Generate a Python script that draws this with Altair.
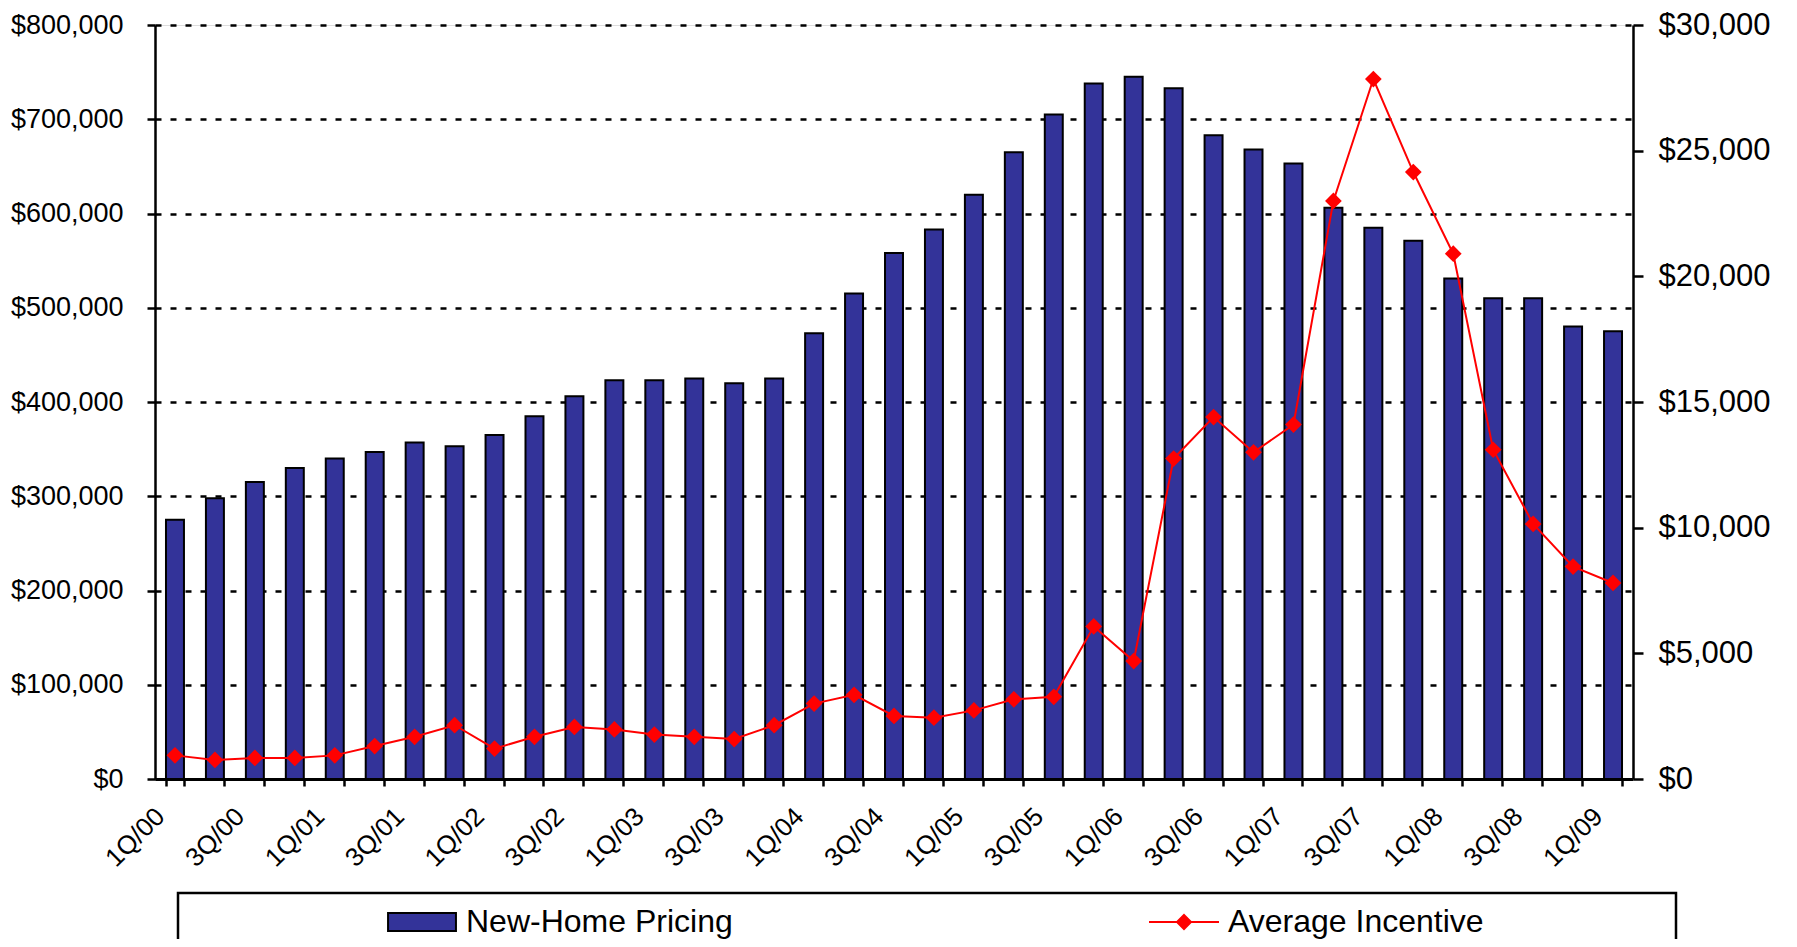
import altair as alt
import pandas as pd

quarters = [
    "1Q/00", "2Q/00", "3Q/00", "4Q/00",
    "1Q/01", "2Q/01", "3Q/01", "4Q/01",
    "1Q/02", "2Q/02", "3Q/02", "4Q/02",
    "1Q/03", "2Q/03", "3Q/03", "4Q/03",
    "1Q/04", "2Q/04", "3Q/04", "4Q/04",
    "1Q/05", "2Q/05", "3Q/05", "4Q/05",
    "1Q/06", "2Q/06", "3Q/06", "4Q/06",
    "1Q/07", "2Q/07", "3Q/07", "4Q/07",
    "1Q/08", "2Q/08", "3Q/08", "4Q/08",
    "1Q/09",
]

price = [
    275000, 298000, 315000, 330000,
    340000, 347000, 357000, 353000,
    365000, 385000, 406000, 423000,
    423000, 425000, 420000, 425000,
    473000, 515000, 558000, 583000,
    620000, 665000, 705000, 738000,
    745000, 733000, 683000, 668000,
    653000, 606000, 585000, 571000,
    531000, 510000, 510000, 480000,
    475000,
]

incentive = [
    940, 760, 840, 840,
    940, 1310, 1680, 2140,
    1210, 1680, 2070, 1970,
    1770, 1680, 1590, 2140,
    3000, 3350, 2510, 2440,
    2730, 3170, 3270, 6070,
    4690, 12750, 14400, 13000,
    14100, 23000, 27850, 24150,
    20900, 13100, 10150, 8450,
    7800,
]

price_ticks = [0, 100000, 200000, 300000, 400000, 500000, 600000, 700000, 800000]
incentive_ticks = [0, 5000, 10000, 15000, 20000, 25000, 30000]

df = pd.DataFrame({
    "quarter": quarters,
    "price": price,
    "incentive": incentive,
    "bar_series": "New-Home Pricing",
    "line_series": "Average Incentive",
})

FONT = "Liberation Sans"
W, H = 1478, 754

x_enc = alt.X(
    "quarter:N",
    sort=quarters,
    title=None,
    scale=alt.Scale(paddingInner=0.55, paddingOuter=0.275),
    axis=alt.Axis(
        labelAngle=315,
        labelAlign="right",
        labelBaseline="middle",
        labelFontSize=26,
        labelFont=FONT,
        labelColor="black",
        labelExpr="(substring(datum.value,0,1)=='1' || substring(datum.value,0,1)=='3') ? datum.value : ''",
        labelOffset=-15,
        labelPadding=26,
        labelOverlap=False,
        labelBound=False,
        tickBand="extent",
        tickSize=7,
        tickWidth=2.5,
        tickColor="black",
        domainColor="black",
        domainWidth=3,
        grid=False,
    ),
)

bars = alt.Chart(df).mark_bar(stroke="black", strokeWidth=2).encode(
    x=x_enc,
    y=alt.Y(
        "price:Q",
        scale=alt.Scale(domain=[0, 800000], nice=False),
        axis=alt.Axis(
            orient="left",
            title=None,
            values=price_ticks,
            format="$,.0f",
            labelFontSize=27,
            labelFont=FONT,
            labelColor="black",
            labelPadding=24,
            tickSize=8,
            tickWidth=2.5,
            tickColor="black",
            domainColor="black",
            domainWidth=2.5,
            grid=True,
            gridColor="black",
            gridDash=[6, 9],
            gridWidth=2.5,
        ),
    ),
    fill=alt.Fill(
        "bar_series:N",
        scale=alt.Scale(range=["#333399"]),
        legend=alt.Legend(
            orient="none",
            legendX=231,
            legendY=861,
            title=None,
            padding=0,
            symbolType="M-0.97,-0.26H0.97V0.26H-0.97Z",
            symbolSize=4900,
            symbolStrokeColor="black",
            symbolStrokeWidth=2,
            labelFontSize=32,
            labelFont=FONT,
            labelColor="black",
            labelOffset=8,
            labelLimit=0,
        ),
    ),
)

y_inc = alt.Y(
    "incentive:Q",
    scale=alt.Scale(domain=[0, 30000], nice=False),
    axis=alt.Axis(
        orient="right",
        title=None,
        values=incentive_ticks,
        format="$,.0f",
        labelFontSize=31,
        labelFont=FONT,
        labelColor="black",
        labelPadding=15,
        tickSize=10,
        tickWidth=2.5,
        tickColor="black",
        domainColor="black",
        domainWidth=2.5,
        grid=False,
    ),
)

line = alt.Chart(df).mark_line(strokeWidth=2).encode(
    x=alt.X("quarter:N", sort=quarters),
    y=y_inc,
    stroke=alt.Stroke(
        "line_series:N",
        scale=alt.Scale(range=["#FF0000"]),
        legend=alt.Legend(
            orient="none",
            legendX=993,
            legendY=861,
            title=None,
            padding=0,
            symbolType="M-1,0H1M0,-0.2L0.2,0L0,0.2L-0.2,0Z",
            symbolSize=4900,
            symbolFillColor="#FF0000",
            symbolStrokeColor="#FF0000",
            symbolStrokeWidth=2,
            labelFontSize=32,
            labelFont=FONT,
            labelColor="black",
            labelOffset=8,
            labelLimit=0,
        ),
    ),
)

points = alt.Chart(df).mark_point(
    shape="diamond", filled=True, color="#FF0000", size=280, opacity=1
).encode(
    x=alt.X("quarter:N", sort=quarters),
    y=y_inc,
)

frame = alt.Chart(pd.DataFrame({"k": [0]})).mark_rect(
    fillOpacity=0, stroke="black", strokeWidth=2.5
).encode(
    x=alt.value(23), x2=alt.value(1521), y=alt.value(868), y2=alt.value(1000)
)

chart = alt.layer(bars, alt.layer(line, points), frame).resolve_scale(
    y="independent"
).properties(
    width=W,
    height=H,
    autosize=alt.AutoSizeParams(type="none"),
    padding={"left": 147, "top": 17, "right": 156, "bottom": 160},
).configure_view(
    stroke="black", strokeWidth=1.5
).configure(
    background="white"
)

chart.save("out.html", embed_options={"renderer": "svg", "actions": False})
